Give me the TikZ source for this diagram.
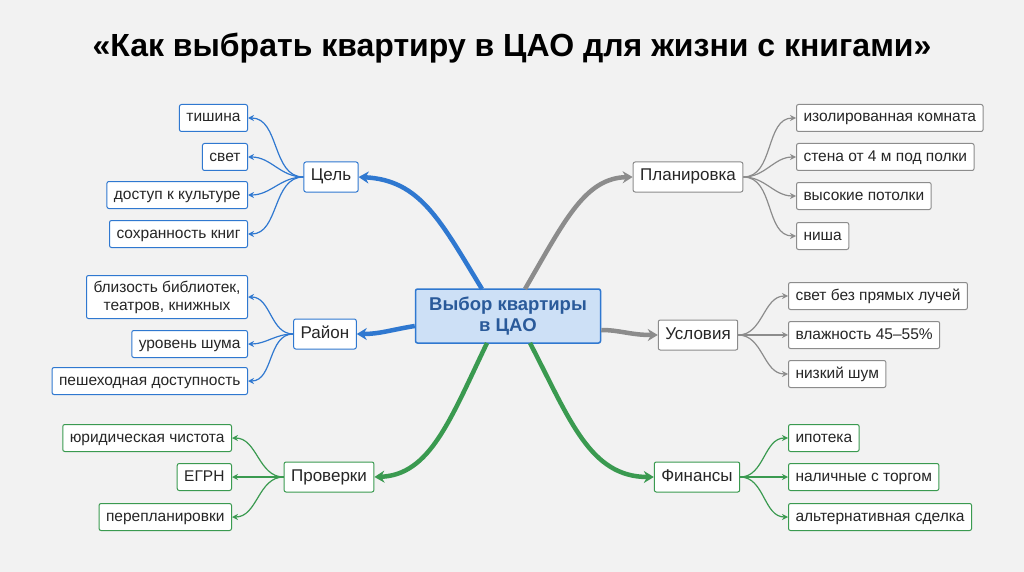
\documentclass[tikz,border=0pt]{standalone}
\usepackage{fontspec}
\setmainfont{Liberation Sans}
\usetikzlibrary{arrows.meta}
\definecolor{bg}{HTML}{F2F2F2}
\definecolor{cb}{HTML}{2F78D0}
\definecolor{cg}{HTML}{8C8C8C}
\definecolor{cgr}{HTML}{3A9A50}
\definecolor{cfill}{HTML}{CDE0F6}
\definecolor{ctxt}{HTML}{2A5A9A}
\begin{document}
\begin{tikzpicture}[x=1pt,y=-1pt,
  box/.style={draw=#1,fill=white,rounded corners=2pt,line width=1pt,inner sep=0pt,inner xsep=7pt,minimum height=27pt,text height=0.85em,text depth=0.05em,font=\fontsize{15.5}{18}\selectfont,text=black!85},
  br/.style={box=#1,minimum height=30pt,font=\fontsize{17}{19}\selectfont},
  main/.style={draw=#1,line width=4.5pt,-{Stealth[length=10pt,width=12pt]}},
  leaf/.style={draw=#1,line width=1.2pt,-{Stealth[length=6pt,width=6pt,open]}}]
\fill[bg] (0,0) rectangle (1024,572);
\node[font=\bfseries\fontsize{32}{36}\selectfont] (title) at (512,48) {«Как выбрать квартиру в ЦАО для жизни с книгами»};
\node[draw=cb,fill=cfill,line width=1.5pt,rounded corners=2pt,minimum width=185pt,minimum height=54pt,align=center,text=ctxt,font=\bfseries\fontsize{18.5}{21}\selectfont] (c) at (508,316) {Выбор квартиры\\в ЦАО};
% branches
\node[br=cb] (z) at (331,177) {Цель};
\node[br=cb] (r) at (325,334) {Район};
\node[br=cgr] (p) at (329,477) {Проверки};
\node[br=cg] (pl) at (688,177) {Планировка};
\node[br=cg] (u) at (698,335) {Условия};
\node[br=cgr] (f) at (697,477) {Финансы};
% main connectors
\coordinate (c1) at (482,289);
\coordinate (c2) at (525,289);
\coordinate (c3) at (487,343);
\coordinate (c4) at (530,343);
\draw[main=cb] (c1) .. controls (440,220) and (420,180) .. (z.east);
\draw[main=cb] (c.west|-r) ++(0,-8) .. controls (390,330) and (380,334) .. (r.east);
\draw[main=cgr] (c3) .. controls (450,420) and (430,475) .. (p.east);
\draw[main=cg] (c2) .. controls (565,220) and (585,178) .. (pl.west);
\draw[main=cg] (c.east|-u) ++(0,-5) .. controls (620,330) and (630,335) .. (u.west);
\draw[main=cgr] (c4) .. controls (570,420) and (590,477) .. (f.west);
% left leaves
\foreach \n/\y/\t in {a/118/тишина,b/157/свет,cc/195/доступ к культуре,d/234/сохранность книг}
  {\node[box=cb,anchor=east] (z\n) at (248,\y) {\t};
   \draw[leaf=cb] (z.west) to[out=180,in=0] (z\n.east);}
\node[box=cb,anchor=east,align=center,minimum height=43pt,text height=,text depth=,font=\fontsize{15.5}{18}\selectfont] (ra) at (248,297) {близость библиотек,\\театров, книжных};
\node[box=cb,anchor=east] (rb) at (248,344) {уровень шума};
\node[box=cb,anchor=east] (rc) at (248,381) {пешеходная доступность};
\foreach \n in {ra,rb,rc} \draw[leaf=cb] (r.west) to[out=180,in=0] (\n.east);
\foreach \n/\y/\t in {a/438/юридическая чистота,b/477/ЕГРН,c/517/перепланировки}
  {\node[box=cgr,anchor=east] (p\n) at (232,\y) {\t};
   \draw[leaf=cgr] (p.west) to[out=180,in=0] (p\n.east);}
% right leaves
\foreach \n/\y/\t in {a/118/изолированная комната,b/157/стена от 4 м под полки,c/196/высокие потолки,d/236/ниша}
  {\node[box=cg,anchor=west] (pl\n) at (796,\y) {\t};
   \draw[leaf=cg] (pl.east) to[out=0,in=180] (pl\n.west);}
\foreach \n/\y/\t in {a/296/свет без прямых лучей,b/335/влажность 45–55\%,c/374/низкий шум}
  {\node[box=cg,anchor=west] (u\n) at (788,\y) {\t};
   \draw[leaf=cg] (u.east) to[out=0,in=180] (u\n.west);}
\foreach \n/\y/\t in {a/438/ипотека,b/477/наличные с торгом,c/517/альтернативная сделка}
  {\node[box=cgr,anchor=west] (f\n) at (788,\y) {\t};
   \draw[leaf=cgr] (f.east) to[out=0,in=180] (f\n.west);}
\end{tikzpicture}
\end{document}
